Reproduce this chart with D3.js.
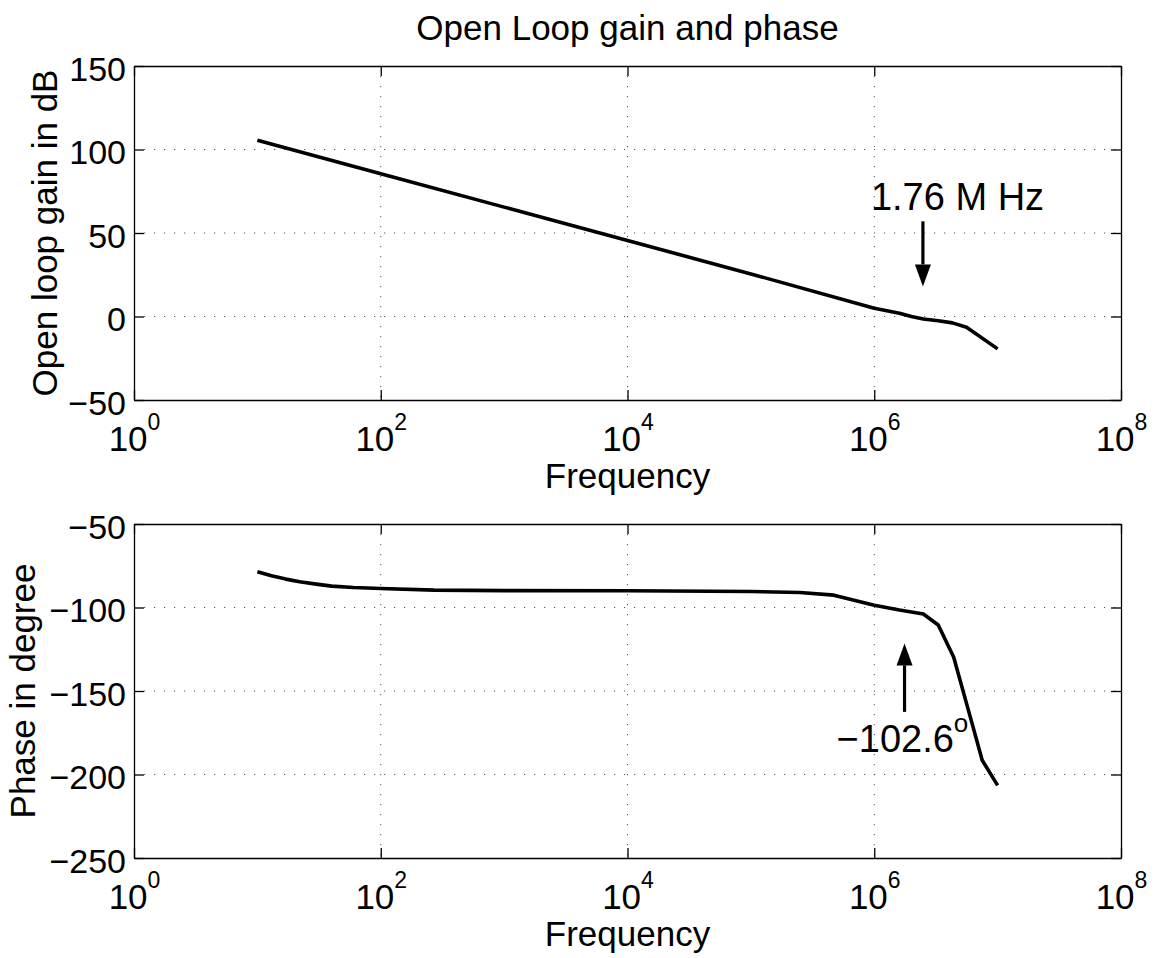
<!DOCTYPE html>
<html>
<head>
<meta charset="utf-8">
<script src="https://cdn.jsdelivr.net/npm/d3@7"></script>
<style>
  body { margin: 0; background: #fff; }
  svg { font-family: "Liberation Sans", Arial, Helvetica, sans-serif; }
  .grid line { stroke: #555; stroke-width: 1; stroke-dasharray: 1.2 8.8; }
  .axis path, .axis line { stroke: #000; stroke-width: 1.3; }
  .axis text { fill: #000; font-size: 34px; }
</style>
</head>
<body>
<svg id="fig" width="1160" height="958"></svg>
<script>
// values
let gainFreq = [10, 100, 1e3, 1e4, 1e5, 1e6, 1.6e6, 2e6, 2.5e6, 3.3e6, 4.3e6, 5.6e6, 1e7];
let gainDb   = [105.5, 85.5, 65.5, 45.5, 25.5, 5, 2, 0, -1.5, -2.5, -3.8, -6.4, -19.4];

let phaseFreq = [10, 13, 17, 22, 30, 40, 60, 100, 270, 1e3, 1e4, 1e5, 2.5e5, 4.7e5, 1e6, 1.6e6, 2.5e6, 3.3e6, 4.4e6, 6e6, 7.5e6, 1e7];
let phaseDeg  = [-78.6, -81, -83, -84.6, -86, -87.2, -88, -88.6, -89.6, -89.9, -90, -90.4, -91, -92.6, -98.6, -101.5, -103.9, -110.5, -129.6, -165.5, -191.5, -206.5];

let freqTicks  = [1, 1e2, 1e4, 1e6, 1e8];
let gainTicks  = [-50, 0, 50, 100, 150];
let phaseTicks = [-250, -200, -150, -100, -50];

let title = 'Open Loop gain and phase';

let svg = d3.select('#fig');
let left = 134, right = 1121;

let x = d3.scaleLog().domain([1, 1e8]).range([left, right]);

function fmt(d) {
  return d < 0 ? '\u2212' + Math.abs(d) : d;
}

function drawPanel(opts) {
  let y = d3.scaleLinear().domain(opts.domain).range([opts.bottom, opts.top]);
  let g = svg.append('g');
  let h = opts.bottom - opts.top;

  // dotted grid
  g.append('g').attr('class', 'grid')
    .selectAll('line.v').data(freqTicks.slice(1, -1)).enter()
    .append('line')
      .attr('x1', d => x(d)).attr('x2', d => x(d))
      .attr('y1', opts.top).attr('y2', opts.bottom);
  g.select('.grid')
    .selectAll('line.h').data(opts.ticks.slice(1, -1)).enter()
    .append('line')
      .attr('x1', left).attr('x2', right)
      .attr('y1', d => y(d)).attr('y2', d => y(d));

  // curve
  let line = d3.line().x(d => x(d[0])).y(d => y(d[1]));
  g.append('path')
    .datum(d3.zip(opts.freq, opts.values))
    .attr('d', line)
    .attr('fill', 'none')
    .attr('stroke', '#000')
    .attr('stroke-width', 3.6)
    .attr('stroke-linejoin', 'round');

  // axes, ticks inside like matlab
  g.append('g').attr('class', 'axis')
    .attr('transform', `translate(${left},0)`)
    .call(d3.axisLeft(y).tickValues(opts.ticks).tickSize(-10).tickSizeOuter(0).tickPadding(8).tickFormat(fmt))
    .selectAll('text').attr('dy', '0.42em');
  g.append('g').attr('class', 'axis')
    .attr('transform', `translate(${right},0)`)
    .call(d3.axisRight(y).tickValues(opts.ticks).tickSize(-10).tickSizeOuter(0).tickFormat(''));
  g.append('g').attr('class', 'axis')
    .attr('transform', `translate(0,${opts.top})`)
    .call(d3.axisTop(x).tickValues(freqTicks).tickSize(-10).tickSizeOuter(0).tickFormat(''));

  let bx = g.append('g').attr('class', 'axis')
    .attr('transform', `translate(0,${opts.bottom})`)
    .call(d3.axisBottom(x).tickValues(freqTicks).tickSize(-10).tickSizeOuter(0).tickFormat(''));
  bx.selectAll('.tick text')
    .attr('y', 51).attr('dy', null)
    .style('font-size', '35px')
    .each(function(d) {
      let t = d3.select(this);
      t.append('tspan').text('10');
      t.append('tspan').attr('dy', -21).style('font-size', '23px').text(Math.round(Math.log10(d)));
    });

  g.append('text')
    .attr('x', (left + right) / 2)
    .attr('y', opts.bottom + 88)
    .attr('text-anchor', 'middle')
    .style('font-size', '35px')
    .text('Frequency');

  g.append('text')
    .attr('transform', `translate(${opts.labelX},${opts.top + h / 2}) rotate(-90)`)
    .attr('text-anchor', 'middle')
    .style('font-size', '35px')
    .text(opts.ylabel);

  // annotation arrow
  let a = opts.note;
  let ax = x(a.freq), y0 = y(a.from), y1 = y(a.to);
  let dir = y1 > y0 ? 1 : -1;
  let hb = y1 - dir * 22;
  g.append('line')
    .attr('x1', ax).attr('x2', ax)
    .attr('y1', y0).attr('y2', hb)
    .attr('stroke', '#000').attr('stroke-width', 3.2);
  g.append('path')
    .attr('d', `M${ax - 8},${hb}L${ax + 8},${hb}L${ax},${y1}Z`)
    .attr('fill', '#000');

  let txt = g.append('text')
    .attr('x', x(a.labelFreq))
    .attr('y', y(a.labelVal))
    .style('font-size', '38px');
  txt.append('tspan').text(a.label);
  if (a.sup) txt.append('tspan').attr('dy', -20).style('font-size', '26px').text(a.sup);
}

svg.append('text')
  .attr('x', (left + right) / 2)
  .attr('y', 40)
  .attr('text-anchor', 'middle')
  .style('font-size', '35px')
  .text(title);

drawPanel({
  top: 66, bottom: 400,
  domain: [-50, 150], ticks: gainTicks,
  freq: gainFreq, values: gainDb,
  ylabel: 'Open loop gain in dB', labelX: 57,
  note: {freq: 2.48e6, from: 57, to: 18, label: '1.76 M Hz', labelFreq: 9.4e5, labelVal: 63.5}
});

drawPanel({
  top: 524, bottom: 858,
  domain: [-250, -50], ticks: phaseTicks,
  freq: phaseFreq, values: phaseDeg,
  ylabel: 'Phase in degree', labelX: 35,
  note: {freq: 1.76e6, from: -162.5, to: -121.5, label: '\u2212102.6', sup: 'o', labelFreq: 4.95e5, labelVal: -186.5}
});
</script>
</body>
</html>
